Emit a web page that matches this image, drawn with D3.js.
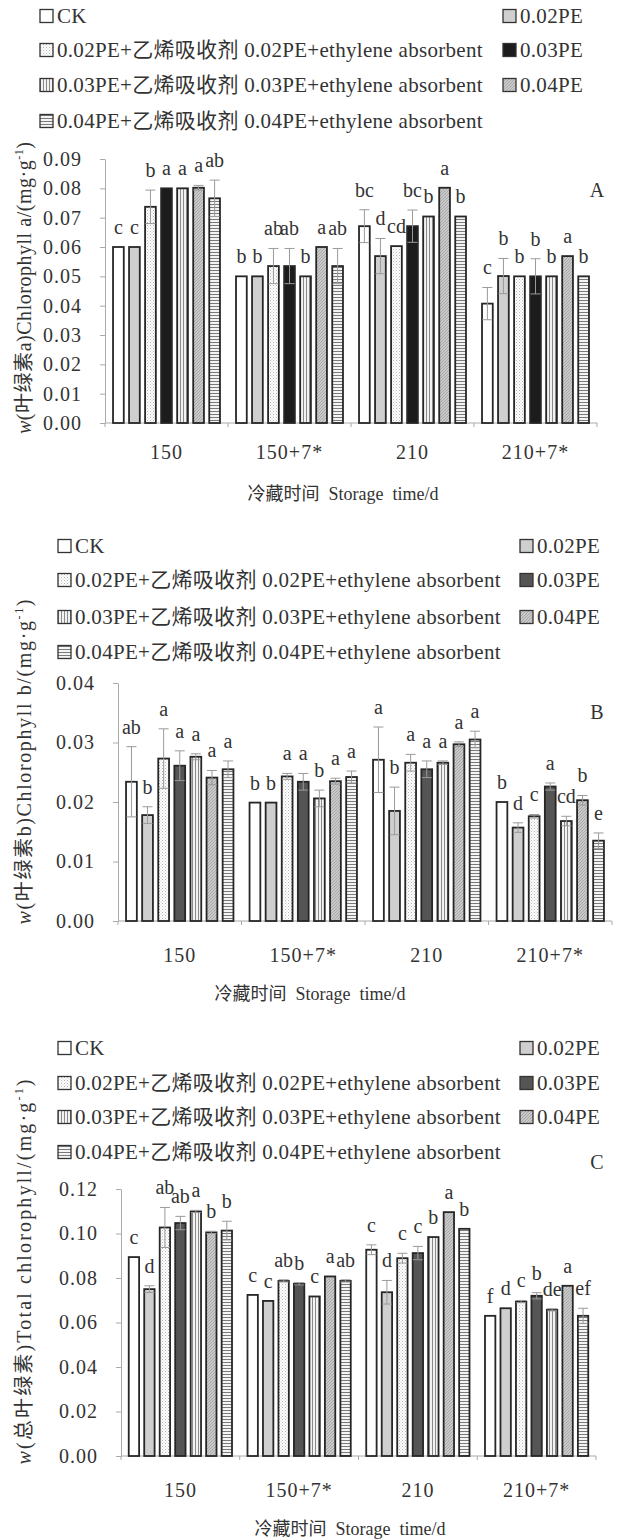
<!DOCTYPE html>
<html>
<head>
<meta charset="utf-8">
<script src="https://cdn.jsdelivr.net/npm/d3@7"></script>
<style>
  body { margin: 0; background: #fff; }
  text { font-family: "Liberation Serif", "Noto Sans CJK SC", serif; fill: #333; }
</style>
</head>
<body>
<svg id="fig" width="622" height="1540"></svg>
<script>
// Storage times (x categories)
const groups = ["150", "150+7*", "210", "210+7*"];

// Treatments, in bar order within each group
const treatments = [
  "CK",
  "0.02PE",
  "0.02PE+乙烯吸收剂 0.02PE+ethylene absorbent",
  "0.03PE",
  "0.03PE+乙烯吸收剂 0.03PE+ethylene absorbent",
  "0.04PE",
  "0.04PE+乙烯吸收剂 0.04PE+ethylene absorbent"
];

// Chlorophyll a (mg/g), one row per storage time
const chlA = [
  [0.0600, 0.0600, 0.0737, 0.0800, 0.0800, 0.0802, 0.0766],
  [0.0500, 0.0500, 0.0535, 0.0535, 0.0500, 0.0600, 0.0535],
  [0.0671, 0.0569, 0.0603, 0.0671, 0.0704, 0.0802, 0.0704],
  [0.0407, 0.0501, 0.0500, 0.0500, 0.0500, 0.0569, 0.0500]
];
const chlAErr = [
  [0, 0, 0.0057, 0, 0, 0.0008, 0.0062],
  [0, 0, 0.0060, 0.0060, 0, 0, 0.0060],
  [0.0056, 0.0060, 0, 0.0055, 0, 0, 0],
  [0.0055, 0.0060, 0, 0.0060, 0, 0, 0]
];
const chlALetters = [
  ["c", "c", "b", "a", "a", "a", "ab"],
  ["b", "b", "ab", "ab", "b", "a", "ab"],
  ["bc", "d", "cd", "bc", "b", "a", "b"],
  ["c", "b", "b", "b", "b", "a", "b"]
];

// Chlorophyll b (mg/g)
const chlB = [
  [0.0234, 0.0178, 0.0273, 0.0261, 0.0276, 0.0241, 0.0255],
  [0.0199, 0.0199, 0.0243, 0.0234, 0.0206, 0.0235, 0.0242],
  [0.0271, 0.0185, 0.0266, 0.0255, 0.0266, 0.0297, 0.0305],
  [0.0200, 0.0157, 0.0176, 0.0226, 0.0168, 0.0203, 0.0135]
];
const chlBErr = [
  [0.0059, 0.0014, 0.0050, 0.0025, 0.0005, 0.0012, 0.0014],
  [0, 0, 0.0005, 0.0014, 0.0014, 0.0005, 0.0010],
  [0.0055, 0.0040, 0.0014, 0.0014, 0.0003, 0.0004, 0.0014],
  [0, 0.0008, 0.0003, 0.0006, 0.0008, 0.0008, 0.0013]
];
const chlBLetters = [
  ["ab", "b", "a", "a", "a", "a", "a"],
  ["b", "b", "a", "a", "b", "a", "a"],
  ["a", "b", "a", "a", "a", "a", "a"],
  ["b", "d", "c", "a", "cd", "b", "e"]
];

// Total chlorophyll (mg/g)
const chlT = [
  [0.0894, 0.0750, 0.1027, 0.1047, 0.1099, 0.1005, 0.1013],
  [0.0724, 0.0697, 0.0787, 0.0774, 0.0717, 0.0807, 0.0787],
  [0.0927, 0.0736, 0.0889, 0.0912, 0.0984, 0.1096, 0.1021],
  [0.0630, 0.0664, 0.0694, 0.0720, 0.0657, 0.0765, 0.0630]
];
const chlTErr = [
  [0, 0.0015, 0.0090, 0.0030, 0.0005, 0.0005, 0.0042],
  [0, 0, 0.0005, 0.0005, 0, 0, 0.0005],
  [0.0022, 0.0053, 0.0022, 0.0030, 0, 0, 0],
  [0, 0, 0.0005, 0.0014, 0.0005, 0, 0.0034]
];
const chlTLetters = [
  ["c", "d", "ab", "ab", "a", "b", "b"],
  ["c", "c", "ab", "b", "c", "a", "ab"],
  ["c", "d", "c", "c", "b", "a", "b"],
  ["f", "d", "c", "b", "de", "a", "ef"]
];

// Y tick values
const yTicksA = [0, 0.01, 0.02, 0.03, 0.04, 0.05, 0.06, 0.07, 0.08, 0.09];
const yTicksB = [0, 0.01, 0.02, 0.03, 0.04];
const yTicksC = [0, 0.02, 0.04, 0.06, 0.08, 0.10, 0.12];

const xTitle = "冷藏时间  Storage  time/d";

const svg = d3.select("#fig");
const defs = svg.append("defs");

// Fill patterns for the treatments
function pattern(id, w, h, bg, draw) {
  const p = defs.append("pattern").attr("id", id)
    .attr("patternUnits", "userSpaceOnUse").attr("width", w).attr("height", h);
  p.append("rect").attr("width", w).attr("height", h).attr("fill", bg);
  draw(p);
}
pattern("pDots", 3, 3, "#fff", p => {
  p.append("rect").attr("x", 0).attr("y", 0).attr("width", 1).attr("height", 1).attr("fill", "#b5b5b5");
  p.append("rect").attr("x", 1.5).attr("y", 1.5).attr("width", 1).attr("height", 1).attr("fill", "#c8c8c8");
});
pattern("pVert", 3, 3, "#f2f2f2", p => {
  p.append("rect").attr("x", 0).attr("y", 0).attr("width", 1).attr("height", 3).attr("fill", "#8a8a8a");
});
pattern("pHorz", 3, 3, "#f4f4f4", p => {
  p.append("rect").attr("x", 0).attr("y", 0).attr("width", 3).attr("height", 1).attr("fill", "#7a7a7a");
});
pattern("pDiag", 3, 3, "#c9c9c9", p => {
  p.append("path").attr("d", "M0,3 L3,0 M-1,1 L1,-1 M2,4 L4,2").attr("stroke", "#9a9a9a").attr("stroke-width", 0.7);
});

function fills(dark) {
  return ["#ffffff", "#cfcfcf", "url(#pDots)", dark, "url(#pVert)", "url(#pDiag)", "url(#pHorz)"];
}

const panels = [
  { values: chlA, errors: chlAErr, letters: chlALetters, ticks: yTicksA,
    xr: [105, 597], yr: [423, 159], legendY: [16, 50, 85, 121], legendX: [40, 503],
    dark: "#1c1c1c", tag: "A", tagY: 197,
    title: ["w", "(叶绿素a)Chlorophyll a/(mg·g", "-1", ")"], titleX: 24, titleY: 288, titleLen: 292,
    tickY: 459, axisTitleX: 343, axisTitleY: 500 },
  { values: chlB, errors: chlBErr, letters: chlBLetters, ticks: yTicksB,
    xr: [118, 612], yr: [921, 683], legendY: [546, 580, 617, 652], legendX: [58, 520],
    dark: "#555555", tag: "B", tagY: 719,
    title: ["w", "(叶绿素b)Chlorophyll b/(mg·g", "-1", ")"], titleX: 24, titleY: 762, titleLen: 325,
    tickY: 962, axisTitleX: 310, axisTitleY: 1000 },
  { values: chlT, errors: chlTErr, letters: chlTLetters, ticks: yTicksC,
    xr: [121, 596], yr: [1456, 1189], legendY: [1048, 1083, 1117, 1152], legendX: [58, 520],
    dark: "#555555", tag: "C", tagY: 1169,
    title: ["w", "(总叶绿素)Total chlorophyll/(mg·g", "-1", ")"], titleX: 24, titleY: 1272, titleLen: 385,
    tickY: 1497, axisTitleX: 350, axisTitleY: 1535 }
];

// Legend layout: left column and right column treatment indices
const legendLeft = [0, 2, 4, 6];
const legendRight = [1, 3, 5];

panels.forEach(P => {
  const g = svg.append("g");
  const fill = fills(P.dark);
  const dom = [P.ticks[0], P.ticks[P.ticks.length - 1]];

  const x0 = d3.scaleBand().domain(groups).range(P.xr).paddingInner(0).paddingOuter(0);
  const x1 = d3.scaleBand().domain(d3.range(treatments.length))
    .range([0, x0.bandwidth()]).paddingInner(0.33).paddingOuter(0.5);
  const y = d3.scaleLinear().domain(dom).range(P.yr);

  // Legend
  const sw = 13;
  const legendItems = legendLeft.map((t, i) => ({ t, x: P.legendX[0], y: P.legendY[i] }))
    .concat(legendRight.map((t, i) => ({ t, x: P.legendX[1], y: P.legendY[i] })));
  const li = g.selectAll("g.leg").data(legendItems).join("g").attr("class", "leg")
    .attr("transform", d => `translate(${d.x},${d.y})`);
  li.append("rect").attr("x", 0).attr("y", -sw / 2).attr("width", sw).attr("height", sw)
    .attr("fill", d => fill[d.t]).attr("stroke", "#333").attr("stroke-width", 1.3);
  li.append("text").attr("x", sw + 4).attr("y", 0).attr("dy", "0.35em")
    .attr("font-size", 21).attr("letter-spacing", 0.3).text(d => treatments[d.t]);

  // Y axis
  const yAxis = d3.axisLeft(y).tickValues(P.ticks).tickFormat(d3.format(".2f"))
    .tickSize(5).tickSizeOuter(0).tickPadding(18);
  const ya = g.append("g").attr("transform", `translate(${P.xr[0]},0)`).call(yAxis);
  ya.select(".domain").attr("stroke", "#aaa");
  ya.selectAll(".tick line").attr("stroke", "#aaa");
  ya.selectAll(".tick text").attr("font-size", 20).attr("fill", "#333")
    .attr("font-family", "Liberation Serif, serif").attr("letter-spacing", 1);

  // X axis baseline with ticks at group boundaries
  const base = y(0);
  g.append("line").attr("x1", P.xr[0]).attr("x2", P.xr[1]).attr("y1", base).attr("y2", base)
    .attr("stroke", "#aaa");
  g.selectAll("line.xt").data(groups.map(d => x0(d)).concat([P.xr[1]])).join("line")
    .attr("class", "xt").attr("x1", d => d).attr("x2", d => d)
    .attr("y1", base).attr("y2", base + 4).attr("stroke", "#aaa");
  g.selectAll("text.xl").data(groups).join("text").attr("class", "xl")
    .attr("x", d => x0(d) + x0.bandwidth() / 2).attr("y", P.tickY)
    .attr("text-anchor", "middle").attr("font-size", 20).attr("letter-spacing", 1).text(d => d);

  // Bars
  const rows = [];
  groups.forEach((gr, gi) => treatments.forEach((t, ti) => rows.push({
    gr, ti, v: P.values[gi][ti], e: P.errors[gi][ti], lab: P.letters[gi][ti]
  })));
  const bx = d => x0(d.gr) + x1(d.ti);
  g.selectAll("rect.bar").data(rows).join("rect").attr("class", "bar")
    .attr("x", bx).attr("width", x1.bandwidth())
    .attr("y", d => y(d.v)).attr("height", d => base - y(d.v))
    .attr("fill", d => fill[d.ti]).attr("stroke", "#262626").attr("stroke-width", 1.8);

  // Error bars
  const cap = 5;
  const eb = g.selectAll("g.err").data(rows.filter(d => d.e > 0)).join("g").attr("class", "err")
    .attr("stroke", "#9a9a9a").attr("stroke-width", 1);
  eb.append("line").attr("x1", d => bx(d) + x1.bandwidth() / 2).attr("x2", d => bx(d) + x1.bandwidth() / 2)
    .attr("y1", d => y(d.v - d.e)).attr("y2", d => y(d.v + d.e));
  eb.append("line").attr("x1", d => bx(d) + x1.bandwidth() / 2 - cap).attr("x2", d => bx(d) + x1.bandwidth() / 2 + cap)
    .attr("y1", d => y(d.v + d.e)).attr("y2", d => y(d.v + d.e));
  eb.append("line").attr("x1", d => bx(d) + x1.bandwidth() / 2 - cap).attr("x2", d => bx(d) + x1.bandwidth() / 2 + cap)
    .attr("y1", d => y(d.v - d.e)).attr("y2", d => y(d.v - d.e));

  // Significance letters
  g.selectAll("text.sig").data(rows).join("text").attr("class", "sig")
    .attr("x", d => bx(d) + x1.bandwidth() / 2).attr("y", d => y(d.v + d.e) - 13)
    .attr("text-anchor", "middle").attr("font-size", 20).text(d => d.lab);

  // Panel tag
  g.append("text").attr("x", 597).attr("y", P.tagY).attr("text-anchor", "middle")
    .attr("font-size", 20).text(P.tag);

  // Y axis title
  const yt = g.append("text").attr("transform", `translate(${P.titleX},${P.titleY}) rotate(-90)`)
    .attr("text-anchor", "middle").attr("dy", "0.35em").attr("font-size", 20)
    .attr("textLength", P.titleLen).attr("lengthAdjust", "spacing");
  yt.append("tspan").attr("font-style", "italic").text(P.title[0]);
  yt.append("tspan").text(P.title[1]);
  yt.append("tspan").attr("font-size", 12).attr("dy", -8).text(P.title[2]);
  yt.append("tspan").attr("dy", 8).text(P.title[3]);

  // X axis title
  g.append("text").attr("x", P.axisTitleX).attr("y", P.axisTitleY).attr("text-anchor", "middle")
    .attr("font-size", 18).style("white-space", "pre").text(xTitle);
});
</script>
</body>
</html>
